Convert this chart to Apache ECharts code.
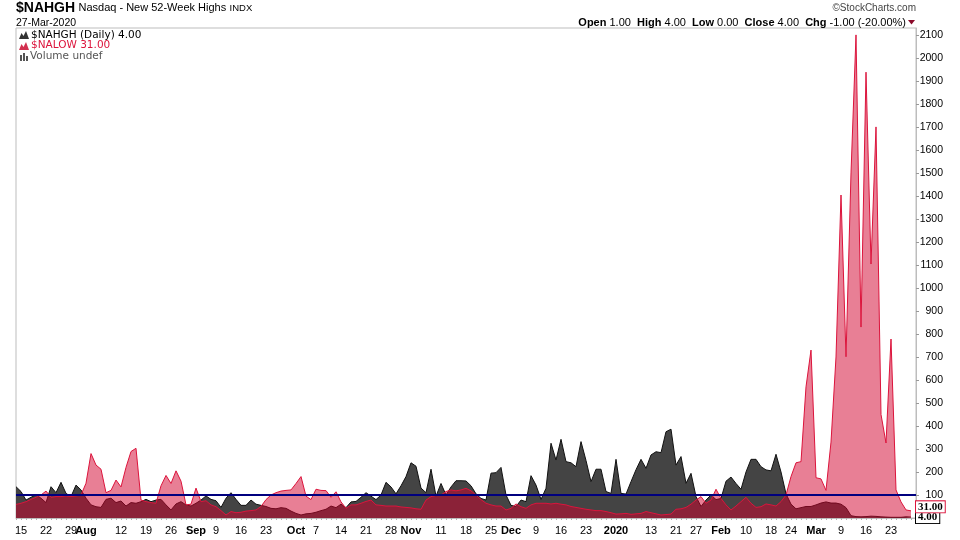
<!DOCTYPE html>
<html>
<head>
<meta charset="utf-8">
<script src="https://cdn.jsdelivr.net/npm/echarts@6/dist/echarts.min.js"></script>
<style>
html,body{margin:0;padding:0;background:#fff;}
#c{width:960px;height:540px;}
</style>
</head>
<body>
<div id="c"></div>
<script>
// Trading days shown (Jul 12, 2019 .. Mar 27, 2020)
const dates = [
'2019-07-12','2019-07-15','2019-07-16','2019-07-17','2019-07-18','2019-07-19','2019-07-22','2019-07-23','2019-07-24','2019-07-25','2019-07-26','2019-07-29','2019-07-30','2019-07-31',
'2019-08-01','2019-08-02','2019-08-05','2019-08-06','2019-08-07','2019-08-08','2019-08-09','2019-08-12','2019-08-13','2019-08-14','2019-08-15','2019-08-16','2019-08-19','2019-08-20','2019-08-21','2019-08-22','2019-08-23','2019-08-26','2019-08-27','2019-08-28','2019-08-29','2019-08-30',
'2019-09-03','2019-09-04','2019-09-05','2019-09-06','2019-09-09','2019-09-10','2019-09-11','2019-09-12','2019-09-13','2019-09-16','2019-09-17','2019-09-18','2019-09-19','2019-09-20','2019-09-23','2019-09-24','2019-09-25','2019-09-26','2019-09-27','2019-09-30',
'2019-10-01','2019-10-02','2019-10-03','2019-10-04','2019-10-07','2019-10-08','2019-10-09','2019-10-10','2019-10-11','2019-10-14','2019-10-15','2019-10-16','2019-10-17','2019-10-18','2019-10-21','2019-10-22','2019-10-23','2019-10-24','2019-10-25','2019-10-28','2019-10-29','2019-10-30','2019-10-31',
'2019-11-01','2019-11-04','2019-11-05','2019-11-06','2019-11-07','2019-11-08','2019-11-11','2019-11-12','2019-11-13','2019-11-14','2019-11-15','2019-11-18','2019-11-19','2019-11-20','2019-11-21','2019-11-22','2019-11-25','2019-11-26','2019-11-27','2019-11-29',
'2019-12-02','2019-12-03','2019-12-04','2019-12-05','2019-12-06','2019-12-09','2019-12-10','2019-12-11','2019-12-12','2019-12-13','2019-12-16','2019-12-17','2019-12-18','2019-12-19','2019-12-20','2019-12-23','2019-12-24','2019-12-26','2019-12-27','2019-12-30','2019-12-31',
'2020-01-02','2020-01-03','2020-01-06','2020-01-07','2020-01-08','2020-01-09','2020-01-10','2020-01-13','2020-01-14','2020-01-15','2020-01-16','2020-01-17','2020-01-21','2020-01-22','2020-01-23','2020-01-24','2020-01-27','2020-01-28','2020-01-29','2020-01-30','2020-01-31',
'2020-02-03','2020-02-04','2020-02-05','2020-02-06','2020-02-07','2020-02-10','2020-02-11','2020-02-12','2020-02-13','2020-02-14','2020-02-18','2020-02-19','2020-02-20','2020-02-21','2020-02-24','2020-02-25','2020-02-26','2020-02-27','2020-02-28',
'2020-03-02','2020-03-03','2020-03-04','2020-03-05','2020-03-06','2020-03-09','2020-03-10','2020-03-11','2020-03-12','2020-03-13','2020-03-16','2020-03-17','2020-03-18','2020-03-19','2020-03-20','2020-03-23','2020-03-24','2020-03-25','2020-03-26','2020-03-27'
];

// $NAHGH - Nasdaq new 52-week highs
const nahgh = [
136,115,78,90,100,86,67,136,110,155,
107,93,143,122,86,57,49,46,81,86,
67,74,52,67,64,71,81,71,78,81,
57,35,61,71,57,52,64,78,96,81,
75,46,86,110,81,55,55,78,60,55,
50,42,40,45,42,30,20,13,18,20,
25,32,38,52,45,60,45,70,72,90,
110,95,80,100,155,135,105,140,180,240,
225,130,110,212,95,150,100,135,162,162,
161,140,105,85,78,195,197,220,100,55,
50,78,71,184,143,81,129,325,252,342,
245,240,223,332,250,158,212,212,115,107,
255,107,104,158,210,255,216,274,288,284,
375,386,230,267,151,194,93,50,78,100,
80,85,160,178,150,125,200,255,255,223,
209,205,277,200,105,60,40,45,50,50,
57,65,70,65,65,60,45,10,6,5,
6,8,7,5,4,3,3,3,5,4
];

// $NALOW - Nasdaq new 52-week lows
const nalow = [
59,64,71,81,90,100,117,90,93,93,
96,93,96,100,151,280,230,212,110,120,
165,135,220,289,303,78,71,67,64,140,
185,150,205,160,57,60,130,71,75,57,
49,32,13,28,23,25,30,32,35,50,
80,100,110,117,120,122,150,180,95,80,
125,120,119,90,114,70,42,57,57,64,
72,78,57,55,52,52,52,48,46,44,
40,38,78,93,98,100,115,122,118,122,
129,118,100,80,64,57,52,52,35,42,
61,49,42,57,64,64,64,61,64,60,
57,50,46,42,38,35,32,32,28,23,
17,18,20,16,18,20,28,23,18,13,
15,17,38,40,46,60,78,93,64,78,
125,85,57,35,52,71,90,64,46,49,
61,57,52,71,100,180,240,245,570,730,
175,170,120,330,700,1404,701,1500,2100,830,
1938,1104,1700,450,326,778,122,70,35,31
];

// Reference level line
const refLevel = 100;

// X-axis tick labels
const tickDates = ['2019-07-15','2019-07-22','2019-07-29','2019-08-01','2019-08-12','2019-08-19','2019-08-26','2019-09-03','2019-09-09','2019-09-16','2019-09-23','2019-10-01','2019-10-07','2019-10-14','2019-10-21','2019-10-28','2019-11-01','2019-11-11','2019-11-18','2019-11-25','2019-12-02','2019-12-09','2019-12-16','2019-12-23','2020-01-02','2020-01-13','2020-01-21','2020-01-27','2020-02-03','2020-02-10','2020-02-18','2020-02-24','2020-03-02','2020-03-09','2020-03-16','2020-03-23'];
const tickTexts = ['15','22','29','Aug','12','19','26','Sep','9','16','23','Oct','7','14','21','28','Nov','11','18','25','Dec','9','16','23','2020','13','21','27','Feb','10','18','24','Mar','9','16','23'];
const majorTicks = ['Aug','Sep','Oct','Nov','Dec','2020','Feb','Mar'];

// Y-axis
const yMin = 0, yMax = 2130, yStep = 100;

const tickMap = {};
tickDates.forEach((d, i) => { tickMap[d] = tickTexts[i]; });
const cats = dates.concat(['']);

const FONT = '"Liberation Sans", Arial, sans-serif';
const chart = echarts.init(document.getElementById('c'));

const option = {
  animation: false,
  backgroundColor: '#fff',
  textStyle: { fontFamily: FONT },
  grid: { left: 16, right: 44, top: 28, bottom: 22, show: true, borderColor: '#bdbdbd', borderWidth: 1, backgroundColor: 'transparent' },
  xAxis: {
    type: 'category', data: cats, boundaryGap: false,
    axisLine: { show: true, lineStyle: { color: '#bdbdbd', width: 1 } },
    axisTick: { show: true, interval: 0, length: 2, lineStyle: { color: '#b0b0b0' } },
    axisLabel: {
      interval: 0, margin: 7, fontSize: 11, color: '#000', fontFamily: FONT,
      formatter: (v) => {
        const t = tickMap[v];
        if (!t) return '';
        return majorTicks.indexOf(t) >= 0 ? '{b|' + t + '}' : t;
      },
      rich: { b: { fontWeight: 'bold', fontSize: 11, color: '#000', fontFamily: FONT } }
    },
    splitLine: { show: false }
  },
  yAxis: {
    type: 'value', position: 'right', min: yMin, max: yMax, interval: yStep,
    axisLine: { show: true, lineStyle: { color: '#bdbdbd' } },
    axisTick: { show: true, length: 3, lineStyle: { color: '#999' } },
    axisLabel: { showMinLabel: false, showMaxLabel: false, align: 'right', margin: 27, fontSize: 10.5, color: '#000', fontFamily: FONT,
      formatter: (v) => String(v) },
    splitLine: { show: false }
  },
  series: [
    {
      name: '$NAHGH', type: 'line', data: nahgh, symbol: 'none', z: 2,
      lineStyle: { color: '#111', width: 1 },
      areaStyle: { color: '#444444', opacity: 1 },
      endLabel: {
        show: true, distance: 5, formatter: (p) => Number(p.value).toFixed(2),
        backgroundColor: '#fff', borderColor: '#000', borderWidth: 1, padding: [1, 2, 0, 2],
        color: '#000', fontWeight: 'bold', fontSize: 11, fontFamily: '"Liberation Serif", serif'
      }
    },
    {
      name: '$NALOW', type: 'line', data: nalow, symbol: 'none', z: 3,
      lineStyle: { color: '#dc143c', width: 1 },
      areaStyle: { color: 'rgba(209,0,44,0.5)', opacity: 1 },
      endLabel: {
        show: true, distance: 5, offset: [0, -4], formatter: (p) => Number(p.value).toFixed(2),
        backgroundColor: '#fff', borderColor: '#dc143c', borderWidth: 1, padding: [0, 2, 0, 2],
        color: '#000', fontWeight: 'bold', fontSize: 11, fontFamily: '"Liberation Serif", serif'
      }
    },
    {
      name: 'ref', type: 'line', data: [], z: 10, silent: true,
      markLine: {
        silent: true, symbol: 'none', animation: false,
        label: { show: false },
        lineStyle: { color: '#00007f', width: 2, type: 'solid' },
        data: [{ yAxis: refLevel }]
      }
    }
  ],
  graphic: [
    { type: 'text', x: 16, y: 8, style: { text: '{a|$NAHGH} {b|Nasdaq - New 52-Week Highs} {c|INDX}', verticalAlign: 'middle',
      rich: { a: { font: 'bold 14px ' + FONT, fill: '#000' }, b: { font: '11px ' + FONT, fill: '#000' }, c: { font: '9.5px ' + FONT, fill: '#000' } } } },
    { type: 'text', x: 16, y: 23, style: { text: '27-Mar-2020', font: '10.5px ' + FONT, fill: '#000', verticalAlign: 'middle' } },
    { type: 'text', x: 916, y: 8, style: { text: '\u00A9StockCharts.com', font: '10px ' + FONT, fill: '#444', align: 'right', verticalAlign: 'middle' } },
    { type: 'text', x: 906, y: 22.5, style: { text: '{b|Open} 1.00  {b|High} 4.00  {b|Low} 0.00  {b|Close} 4.00  {b|Chg} -1.00 (-20.00%)',
      font: '11px ' + FONT, fill: '#000', align: 'right', verticalAlign: 'middle',
      rich: { b: { font: 'bold 11px ' + FONT, fill: '#000' } } } },
    { type: 'polygon', shape: { points: [[908, 20], [915, 20], [911.5, 24.5]] }, style: { fill: '#8b0a2a' } },
    // legend inside plot
    { type: 'polygon', shape: { points: [[19, 39], [21.5, 33], [23.5, 36], [26, 31], [29, 39]] }, style: { fill: '#333' } },
    { type: 'text', x: 31, y: 35, style: { text: '$NAHGH (Daily) 4.00', font: '10.5px "DejaVu Sans", sans-serif', fill: '#000', verticalAlign: 'middle' } },
    { type: 'polygon', shape: { points: [[19, 50], [21.5, 44], [23.5, 47], [26, 42], [29, 50]] }, style: { fill: '#d2304f' } },
    { type: 'text', x: 31, y: 45.7, style: { text: '$NALOW 31.00', font: '10.5px "DejaVu Sans", sans-serif', fill: '#dc143c', verticalAlign: 'middle' } },
    { type: 'rect', shape: { x: 20, y: 55, width: 2, height: 6 }, style: { fill: '#555' } },
    { type: 'rect', shape: { x: 23, y: 53, width: 2, height: 8 }, style: { fill: '#555' } },
    { type: 'rect', shape: { x: 26, y: 56, width: 2, height: 5 }, style: { fill: '#555' } },
    { type: 'text', x: 30, y: 56.5, style: { text: 'Volume undef', font: '10.5px "DejaVu Sans", sans-serif', fill: '#555', verticalAlign: 'middle' } }
  ]
};
chart.setOption(option);
</script>
</body>
</html>
